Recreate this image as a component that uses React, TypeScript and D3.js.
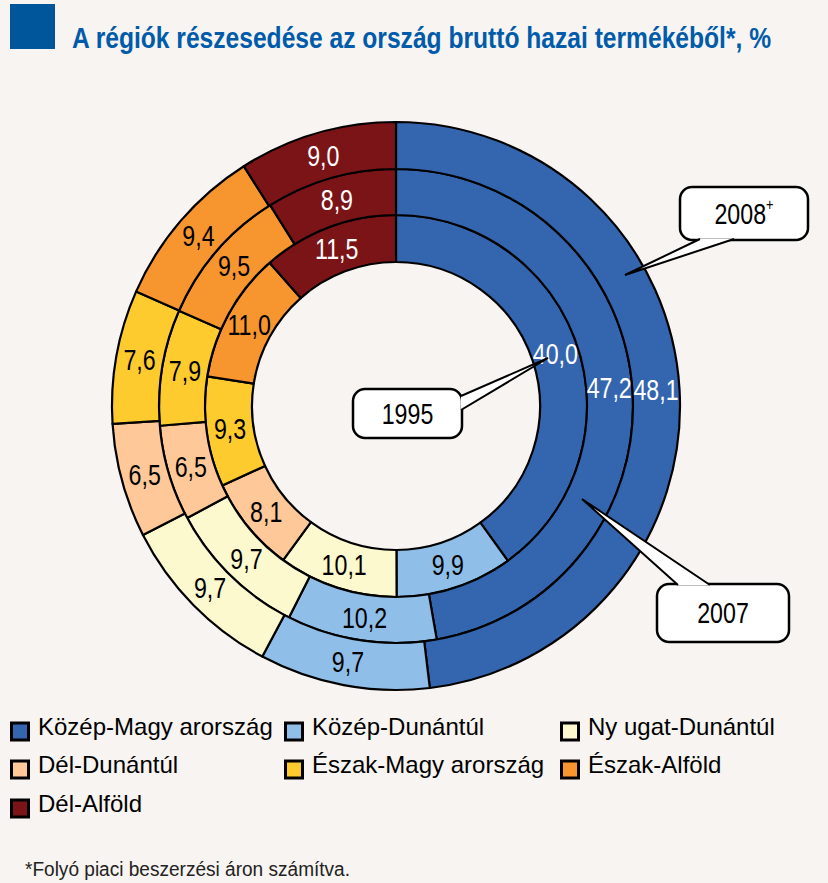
import React from "react";
import * as d3 from "d3";

const regions = [
  "Közép-Magyarország",
  "Közép-Dunántúl",
  "Nyugat-Dunántúl",
  "Dél-Dunántúl",
  "Észak-Magyarország",
  "Észak-Alföld",
  "Dél-Alföld",
];
const legendLabels = [
  "Közép-Magy arország",
  "Közép-Dunántúl",
  "Ny ugat-Dunántúl",
  "Dél-Dunántúl",
  "Észak-Magy arország",
  "Észak-Alföld",
  "Dél-Alföld",
];
const colors = ["#3466B0", "#8FBFE8", "#FDF9CF", "#FFC899", "#FECB2F", "#F7962E", "#7B1416"];
const darkText = [true, false, false, false, false, false, true];

const years = ["1995", "2007", "2008"];
const values1995 = [40.0, 9.9, 10.1, 8.1, 9.3, 11.0, 11.5];
const values2007 = [47.2, 10.2, 9.7, 6.5, 7.9, 9.5, 8.9];
const values2008 = [48.1, 9.7, 9.7, 6.5, 7.6, 9.4, 9.0];
const series = [values1995, values2007, values2008];

const W = 828;
const H = 883;
const cx = 396;
const cy = 406;
const radii = [144, 191, 237, 284];
const SANS = "'Liberation Sans', Arial, sans-serif";
const SX = 0.8;

const fmt = (v: number) => v.toFixed(1).replace(".", ",");

function NText({ x, y, size, fill, children, anchor = "middle", weight }: any) {
  return (
    <text
      transform={`translate(${x},${y}) scale(${SX},1)`}
      textAnchor={anchor}
      fontFamily={SANS}
      fontSize={size}
      fontWeight={weight}
      fill={fill}
    >
      {children}
    </text>
  );
}

function Balloon({ x, y, w, h, base1, base2, tip, text, sup }: any) {
  const r = 12;
  const p = `M${base1[0]},${base1[1]} L${tip[0]},${tip[1]} L${base2[0]},${base2[1]}`;
  return (
    <g>
      <rect x={x} y={y} width={w} height={h} rx={r} ry={r} fill="#fff" stroke="#000" strokeWidth={2.5} />
      <path d={p} fill="#fff" stroke="none" />
      <path d={p} fill="none" stroke="#000" strokeWidth={2} />
      <NText x={x + w / 2} y={y + h / 2 + 10} size={29} fill="#000">
        {text}
        {sup ? (
          <tspan dy={-14} fontSize={16}>
            {sup}
          </tspan>
        ) : null}
      </NText>
    </g>
  );
}

export default function App() {
  const pie = d3
    .pie<number>()
    .sort(null)
    .value((d) => d)
    .startAngle(0)
    .endAngle(2 * Math.PI);

  const rings = series.map((vals, i) => {
    const arc = d3.arc<d3.PieArcDatum<number>>().innerRadius(radii[i]).outerRadius(radii[i + 1]);
    return { arcs: pie(vals), arc, year: years[i] };
  });

  const legendCols = [10, 284, 560];
  const legendRows = [735, 773, 812];

  return (
    <svg
      width={W}
      height={H}
      style={{ position: "absolute", left: 0, top: 0, display: "block" }}
    >
      <rect x={0} y={0} width={W} height={H} fill="#F7F4F1" />
      <rect x={10} y={4} width={45} height={45} fill="#00569B" />
      <text
        x={72}
        y={48}
        fontFamily={SANS}
        fontWeight="bold"
        fontSize={29}
        fill="#005BAA"
        textLength={699}
        lengthAdjust="spacingAndGlyphs"
      >
        A régiók részesedése az ország bruttó hazai termékéből*, %
      </text>

      <g transform={`translate(${cx},${cy})`}>
        {rings.map((ring) =>
          ring.arcs.map((a, j) => (
            <path
              key={ring.year + j}
              d={ring.arc(a) as string}
              fill={colors[j]}
              stroke="#000"
              strokeWidth={2.2}
              strokeLinejoin="round"
            />
          ))
        )}
        {rings.map((ring) =>
          ring.arcs.map((a, j) => {
            const [lx, ly] = ring.arc.centroid(a);
            return (
              <NText
                key={"t" + ring.year + j}
                x={lx}
                y={ly + 10}
                size={29}
                fill={darkText[j] ? "#fff" : "#000"}
              >
                {fmt(a.data)}
              </NText>
            );
          })
        )}
      </g>

      <Balloon x={680} y={187} w={128} h={53} base1={[700, 239]} base2={[734, 239]} tip={[625, 275]} text="2008" sup="+" />
      <Balloon x={353} y={389} w={109} h={49} base1={[461, 396]} base2={[461, 410]} tip={[548, 358]} text="1995" />
      <Balloon x={657} y={584} w={132} h={58} base1={[678, 585]} base2={[710, 585]} tip={[582, 499]} text="2007" />

      {legendLabels.map((lab, i) => {
        const col = i % 3;
        const row = Math.floor(i / 3);
        const x = legendCols[col];
        const y = legendRows[row];
        return (
          <g key={lab}>
            <rect x={x + 1.5} y={y - 12} width={17} height={17} fill={colors[i]} stroke="#000" strokeWidth={3} />
            <text x={x + 28} y={y} fontFamily={SANS} fontSize={24} fill="#000">
              {lab}
            </text>
          </g>
        );
      })}

      <text
        x={25}
        y={876}
        fontFamily={SANS}
        fontSize={20}
        fill="#222"
        textLength={325}
        lengthAdjust="spacingAndGlyphs"
      >
        *Folyó piaci beszerzési áron számítva.
      </text>
    </svg>
  );
}
